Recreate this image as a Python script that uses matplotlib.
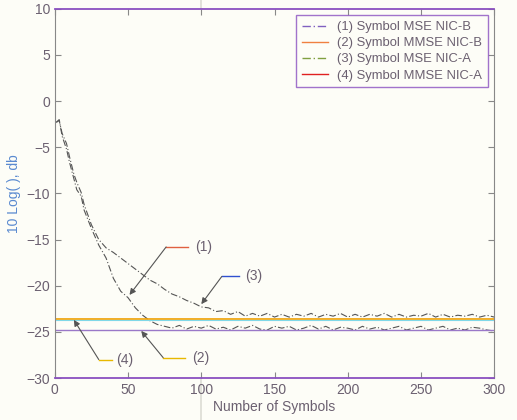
import matplotlib
matplotlib.use("Agg")
import matplotlib.pyplot as plt
from matplotlib.lines import Line2D
import matplotlib.transforms as mtransforms

plt.rcParams['font.family'] = ['Liberation Sans', 'DejaVu Sans']

# symbol index where curves are sampled
symbols = [1, 3, 5, 8, 10, 13, 15, 18, 20, 25, 30, 35, 40, 45, 50, 55, 60, 65, 70, 75,
           80, 85, 90, 95, 100, 105, 110, 115, 120, 125, 130, 135, 140, 145, 150,
           155, 160, 165, 170, 175, 180, 185, 190, 195, 200, 205, 210, 215, 220,
           225, 230, 235, 240, 245, 250, 255, 260, 265, 270, 275, 280, 285, 290,
           295, 300]

# (1) Symbol MSE NIC-B  (fast convergence)
mse_nic_b = [-2.3, -2.0, -3.8, -5.2, -6.6, -8.4, -9.6, -10.3, -11.8, -13.8, -15.6,
             -17.0, -19.2, -20.6, -21.3, -22.4, -23.2, -23.8, -24.2, -24.4,
             -24.6, -24.3, -24.7, -24.4, -24.6, -24.3, -24.7, -24.5, -24.8, -24.4,
             -24.6, -24.3, -24.7, -24.8, -24.4, -24.6, -24.4, -24.8, -24.6, -24.3,
             -24.7, -24.4, -24.8, -24.5, -24.6, -24.8, -24.4, -24.7, -24.5, -24.8,
             -24.6, -24.4, -24.8, -24.6, -24.4, -24.8, -24.6, -24.4, -24.8, -24.6,
             -24.8, -24.5, -24.6, -24.8, -24.9]

# (3) Symbol MSE NIC-A  (slow convergence)
mse_nic_a = [-2.3, -2.1, -3.5, -4.6, -6.0, -7.9, -8.8, -9.9, -11.2, -13.4, -15.0,
             -15.9, -16.4, -17.0, -17.6, -18.2, -18.8, -19.4, -19.8, -20.4,
             -20.9, -21.2, -21.6, -21.9, -22.3, -22.4, -22.8, -22.7, -23.1, -22.8,
             -23.3, -23.0, -23.3, -23.0, -23.4, -23.1, -23.4, -23.1, -23.3, -23.0,
             -23.4, -23.1, -23.3, -23.0, -23.4, -23.1, -23.4, -23.1, -23.3, -23.0,
             -23.4, -23.1, -23.4, -23.2, -23.3, -23.0, -23.4, -23.1, -23.4, -23.2,
             -23.3, -23.1, -23.4, -23.2, -23.4]

# (2) / (4) MMSE levels (flat)
mmse_nic_b = -24.8
mmse_nic_a = -23.6

legend_labels = ["(1) Symbol MSE NIC-B", "(2) Symbol MMSE NIC-B",
                 "(3) Symbol MSE NIC-A", "(4) Symbol MMSE NIC-A"]

txt_col = "#6b6070"
paper = "#fdfdf7"

fig = plt.figure(figsize=(5.17, 4.20), dpi=100, facecolor=paper)
ax = fig.add_axes([0.106, 0.10, 0.850, 0.879], facecolor=paper)

# scanner fold at x = 100
trans = mtransforms.blended_transform_factory(ax.transData, fig.transFigure)
fig.add_artist(Line2D([100, 100], [0, 1], transform=trans, color="#dcdcd4",
                      lw=1.2, zorder=0))

ax.plot(symbols, mse_nic_b, color="#555555", lw=0.8, ls=(0, (6, 2, 1, 2)))
ax.plot(symbols, mse_nic_a, color="#555555", lw=0.8, ls=(0, (6, 2, 1, 2)))
ax.axhline(mmse_nic_a, color="#f0a000", lw=1.2)
ax.axhline(mmse_nic_a - 0.15, color="#7fd8e8", lw=0.8)
ax.axhline(mmse_nic_b, color="#9a78c8", lw=1.0)

# annotations: (label pos, leader start/end, arrow tip, leader colour)
annots = [
    ("(1)", (96, -15.8), (76, 91), (51, -21.0), "#e06040"),
    ("(3)", (130, -19.0), (114, 126), (100, -22.0), "#3050d0"),
    ("(4)", (42, -28.0), (30, 39), (13, -23.7), "#e8b800"),
    ("(2)", (94, -27.8), (74, 89), (59, -24.9), "#e8b800"),
]
for lab, (tx, ty), (x0, x1), (ax_, ay_), col in annots:
    ax.plot([x0, x1], [ty, ty], color=col, lw=1.0)
    ax.annotate("", xy=(ax_, ay_), xytext=(x0, ty),
                arrowprops=dict(arrowstyle="-|>", color="#555555", lw=0.8,
                                mutation_scale=9, shrinkA=0, shrinkB=0))
    ax.text(tx, ty, lab, color=txt_col, fontsize=10, va="center", ha="left")

ax.set_xlim(0, 300)
ax.set_ylim(-30, 10)
ax.set_xticks(range(0, 301, 50))
ax.set_yticks(range(-30, 11, 5))
ax.tick_params(direction="in", top=True, right=True, length=4, color="#888888",
               labelcolor=txt_col, labelsize=10)
for side in ["left", "right"]:
    ax.spines[side].set_color("#888888")
for side in ["top", "bottom"]:
    ax.spines[side].set_color("#8a50c0")
    ax.spines[side].set_linewidth(1.3)

ax.set_xlabel("Number of Symbols", color=txt_col, fontsize=10, labelpad=2)
ax.set_ylabel("10 Log( ), db", color="#5a8ad0", fontsize=10, labelpad=4)

handles = [
    Line2D([], [], color="#8060c0", lw=1.0, ls=(0, (6, 2, 1, 2))),
    Line2D([], [], color="#f08040", lw=1.0),
    Line2D([], [], color="#80a040", lw=1.0, ls=(0, (6, 2, 1, 2))),
    Line2D([], [], color="#e02020", lw=1.0),
]
leg = ax.legend(handles, legend_labels, loc="upper right", fontsize=9.4,
                frameon=True, fancybox=False, borderpad=0.45, labelspacing=0.3,
                handlelength=2.0, handletextpad=0.7, borderaxespad=0.5)
leg.get_frame().set_edgecolor("#8a50c0")
leg.get_frame().set_facecolor(paper)
leg.get_frame().set_linewidth(1.0)
for t in leg.get_texts():
    t.set_color(txt_col)

fig.savefig("out.png", dpi=100, facecolor=paper)
